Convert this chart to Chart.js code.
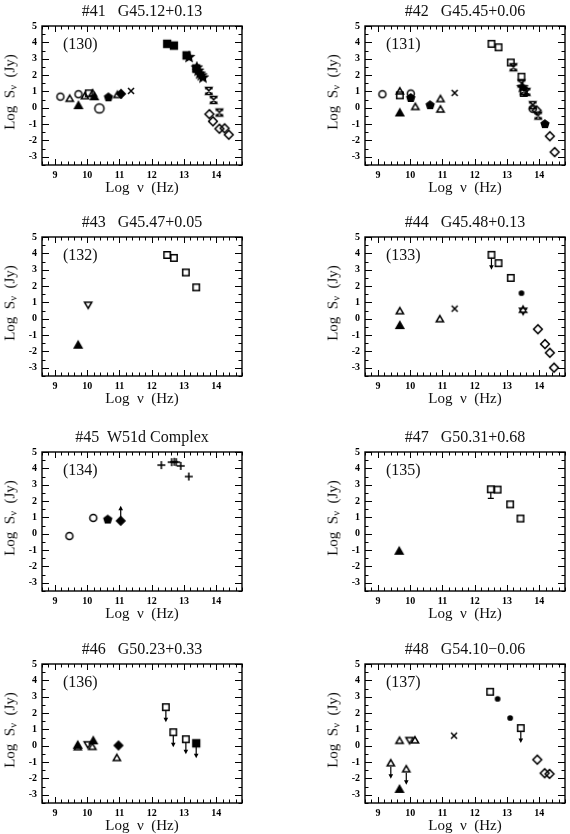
<!DOCTYPE html>
<html>
<head>
<meta charset="utf-8">
<script src="https://cdn.jsdelivr.net/npm/chart.js@4.4.1/dist/chart.umd.min.js"></script>
<style>
  body { margin: 0; background: #fff; }
  #fig { position: relative; width: 570px; height: 834px; overflow: hidden; font-family: "Liberation Serif", "DejaVu Serif", serif; color: #111; }
  #fig canvas { position: absolute; }
  .t { position: absolute; white-space: pre; line-height: 1; }
  .t sub { font-size: 70%; vertical-align: -2px; line-height: 0; }
</style>
</head>
<body>
<div id="fig"></div>
<script>
// axis ticks shared by every panel (log nu in Hz, log S in Jy)
var xTicks = [9, 10, 11, 12, 13, 14];
var yTicks = [-3, -2, -1, 0, 1, 2, 3, 4, 5];

// symbol codes: oc open circle, OC big open circle, sc small dot, ot/ft open/filled triangle,
// dt down triangle, os/fs open/filled square, od/fd open/filled diamond, fp filled pentagon,
// fst/ost filled/open star, x cross, + plus, hg hourglass
// lim: 1 upper limit, -1 lower limit, 2 error bar

var n41_x = [9.17, 9.46, 9.73, 9.73, 9.93, 10.05, 10.17, 10.22, 10.38, 10.66, 10.94, 11.05, 11.36, 12.48, 12.69, 13.08, 13.16, 13.38, 13.40, 13.44, 13.49, 13.54, 13.59, 13.77, 13.92, 14.10, 13.79, 13.90, 14.10, 14.26, 14.39];
var n41_y = [0.68, 0.52, 0.10, 0.83, 0.68, 0.88, 0.85, 0.64, -0.04, 0.64, 0.75, 0.85, 1.03, 3.91, 3.80, 3.20, 3.10, 2.40, 2.46, 2.27, 2.09, 1.98, 1.85, 1.03, 0.48, -0.29, -0.39, -0.83, -1.28, -1.26, -1.65];
var n41_sym = ["oc", "ot", "ft", "oc", "ot", "os", "ot", "ft", "OC", "fp", "ot", "fd", "x", "fs", "fs", "fs", "fst", "fs", "fst", "fst", "fst", "fst", "fst", "hg", "hg", "hg", "od", "od", "od", "od", "od"];

var n42_x = [9.14, 9.68, 9.68, 9.68, 10.02, 10.02, 10.16, 10.62, 10.94, 10.94, 11.38, 12.52, 12.74, 13.12, 13.20, 13.45, 13.45, 13.48, 13.52, 13.52, 13.61, 13.80, 13.80, 13.92, 13.97, 14.18, 14.33, 14.48];
var n42_y = [0.83, 0.97, 0.76, -0.35, 0.87, 0.60, 0.02, 0.16, 0.50, -0.14, 0.91, 3.91, 3.70, 2.77, 2.48, 1.90, 1.49, 1.26, 1.03, 0.91, 0.97, 0.16, -0.06, -0.16, -0.48, -1.00, -1.74, -2.71];
var n42_sym = ["oc", "ot", "os", "ft", "oc", "fp", "ot", "fp", "ot", "ot", "x", "os", "os", "os", "hg", "os", "hg", "fst", "hg", "os", "hg", "hg", "oc", "od", "hg", "fp", "od", "od"];

var n43_x = [9.72, 10.03, 12.48, 12.69, 13.06, 13.38];
var n43_y = [-1.65, 0.89, 3.90, 3.72, 2.83, 1.92];
var n43_sym = ["ft", "dt", "os", "os", "os", "os"];

var n44_x = [9.68, 9.68, 10.92, 11.38, 12.52, 12.74, 13.12, 13.45, 13.50, 13.96, 14.18, 14.33, 14.46];
var n44_y = [0.43, -0.45, -0.06, 0.62, 3.91, 3.40, 2.50, 1.57, 0.52, -0.64, -1.55, -2.08, -2.99];
var n44_sym = ["ot", "ft", "ot", "x", "os", "os", "os", "sc", "ost", "od", "od", "od", "od"];
var n44_lim = [0, 0, 0, 0, 1, 0, 0, 0, 0, 0, 0, 0, 0];

var n45_x = [9.45, 10.19, 10.64, 11.04, 12.30, 12.62, 12.70, 12.76, 12.90, 13.15];
var n45_y = [-0.14, 0.97, 0.87, 0.79, 4.20, 4.38, 4.40, 4.38, 4.15, 3.50];
var n45_sym = ["oc", "oc", "fp", "fd", "+", "+", "+", "+", "+", "+"];
var n45_lim = [0, 0, 0, -1, 0, 0, 0, 0, 0, 0];

var n47_x = [9.66, 12.50, 12.71, 13.10, 13.42];
var n47_y = [-1.10, 2.72, 2.70, 1.80, 0.93];
var n47_sym = ["ft", "os", "os", "os", "os"];
var n47_lim = [0, 2, 0, 0, 0];

var n46_x = [9.71, 9.71, 10.02, 10.19, 10.16, 10.97, 10.92, 12.44, 12.67, 13.06, 13.38];
var n46_y = [0.00, -0.12, 0.12, 0.27, -0.10, 0.02, -0.78, 2.36, 0.83, 0.40, 0.15];
var n46_sym = ["ft", "ot", "dt", "ft", "ot", "fd", "ot", "os", "os", "os", "fs"];
var n46_lim = [0, 0, 0, 0, 0, 0, 0, 1, 1, 1, 1];

var n48_x = [9.40, 9.67, 9.67, 9.88, 9.98, 10.15, 11.36, 12.48, 12.71, 13.10, 13.43, 13.94, 14.17, 14.32];
var n48_y = [-1.10, 0.27, -2.70, -1.47, 0.38, 0.30, 0.62, 3.30, 2.87, 1.70, 1.08, -0.85, -1.68, -1.72];
var n48_sym = ["ot", "ot", "ft", "ot", "dt", "ot", "x", "os", "sc", "sc", "os", "od", "od", "od"];
var n48_lim = [1, 0, 0, 1, 0, 0, 0, 0, 0, 0, 1, 0, 0, 0];

var panels = [
  { title: "#41   G45.12+0.13", tag: "(130)", x: n41_x, y: n41_y, sym: n41_sym, lim: null, col: 0, row: 0 },
  { title: "#42   G45.45+0.06", tag: "(131)", x: n42_x, y: n42_y, sym: n42_sym, lim: null, col: 1, row: 0 },
  { title: "#43   G45.47+0.05", tag: "(132)", x: n43_x, y: n43_y, sym: n43_sym, lim: null, col: 0, row: 1 },
  { title: "#44   G45.48+0.13", tag: "(133)", x: n44_x, y: n44_y, sym: n44_sym, lim: n44_lim, col: 1, row: 1 },
  { title: "#45  W51d Complex", tag: "(134)", x: n45_x, y: n45_y, sym: n45_sym, lim: n45_lim, col: 0, row: 2 },
  { title: "#47   G50.31+0.68", tag: "(135)", x: n47_x, y: n47_y, sym: n47_sym, lim: n47_lim, col: 1, row: 2 },
  { title: "#46   G50.23+0.33", tag: "(136)", x: n46_x, y: n46_y, sym: n46_sym, lim: n46_lim, col: 0, row: 3 },
  { title: "#48   G54.10\u22120.06", tag: "(137)", x: n48_x, y: n48_y, sym: n48_sym, lim: n48_lim, col: 1, row: 3 }
];

// layout
var COL_LEFT = [42, 365], ROW_TOP = [19, 230, 445, 657];
var PW = 200, PH = 146;
var FONT = '"Liberation Serif", "DejaVu Serif", serif';

function poly(g, n, r, a0) {
  for (var i = 0; i < n; i++) {
    var a = a0 + i * 2 * Math.PI / n;
    if (i === 0) g.moveTo(r * Math.cos(a), r * Math.sin(a)); else g.lineTo(r * Math.cos(a), r * Math.sin(a));
  }
  g.closePath();
}
function star(g, ro, ri) {
  for (var i = 0; i < 10; i++) {
    var a = -Math.PI / 2 + i * Math.PI / 5, r = i % 2 ? ri : ro;
    if (i === 0) g.moveTo(r * Math.cos(a), r * Math.sin(a)); else g.lineTo(r * Math.cos(a), r * Math.sin(a));
  }
  g.closePath();
}

function marker(sym) {
  var c = document.createElement("canvas");
  c.width = c.height = 14;
  var g = c.getContext("2d");
  g.translate(7, 7);
  g.lineWidth = 1.5;
  g.strokeStyle = g.fillStyle = "#000";
  var fill = false;
  g.beginPath();
  switch (sym) {
    case "oc": g.arc(0, 0, 3.5, 0, 2 * Math.PI); break;
    case "OC": g.arc(0, 0, 4.6, 0, 2 * Math.PI); break;
    case "sc": g.arc(0, 0, 2.1, 0, 2 * Math.PI); fill = true; break;
    case "ot": poly(g, 3, 4.2, -Math.PI / 2); break;
    case "ft": poly(g, 3, 4.4, -Math.PI / 2); fill = true; break;
    case "dt": poly(g, 3, 4.2, Math.PI / 2); break;
    case "os": g.rect(-3.2, -3.2, 6.4, 6.4); break;
    case "fs": g.rect(-3.4, -3.4, 6.8, 6.8); fill = true; break;
    case "od": poly(g, 4, 4.4, -Math.PI / 2); break;
    case "fd": poly(g, 4, 4.2, -Math.PI / 2); fill = true; break;
    case "fp": poly(g, 5, 4.0, -Math.PI / 2); fill = true; break;
    case "fst": star(g, 4.8, 2.2); fill = true; break;
    case "ost": poly(g, 3, 4.2, -Math.PI / 2); poly(g, 3, 4.2, Math.PI / 2); break;
    case "x": g.moveTo(-3, -3); g.lineTo(3, 3); g.moveTo(3, -3); g.lineTo(-3, 3); break;
    case "+": g.moveTo(-4, 0); g.lineTo(4, 0); g.moveTo(0, -4); g.lineTo(0, 4); break;
    case "hg":
      g.moveTo(-3, -3.5); g.lineTo(3, -3.5); g.lineTo(-3, 3.5); g.lineTo(3, 3.5); g.closePath();
      g.moveTo(-3, -3.5); g.lineTo(-3, -1.5); g.moveTo(3, -3.5); g.lineTo(3, -1.5);
      g.moveTo(-3, 3.5); g.lineTo(-3, 1.5); g.moveTo(3, 3.5); g.lineTo(3, 1.5);
      break;
  }
  if (fill) g.fill();
  g.stroke();
  return c;
}
var IMG = {};
["oc", "OC", "sc", "ot", "ft", "dt", "os", "fs", "od", "fd", "fp", "fst", "ost", "x", "+", "hg"].forEach(function (s) { IMG[s] = marker(s); });

// box with inward ticks on all four sides
var frame = {
  id: "frame",
  afterDraw: function (chart) {
    var a = chart.chartArea, xs = chart.scales.x, ys = chart.scales.y, ctx = chart.ctx;
    ctx.save();
    ctx.strokeStyle = "#000";
    ctx.lineWidth = 1.4;
    ctx.strokeRect(a.left, a.top, a.right - a.left, a.bottom - a.top);
    ctx.lineWidth = 1;
    ctx.beginPath();
    var i, v, p, len;
    for (i = Math.ceil(xs.min / 0.2 - 1e-6); i * 0.2 <= xs.max + 1e-6; i++) {
      v = i * 0.2;
      p = Math.round(xs.getPixelForValue(v)) + 0.5;
      len = Math.abs(v - Math.round(v)) < 1e-6 ? 6 : 3.5;
      ctx.moveTo(p, a.bottom); ctx.lineTo(p, a.bottom - len);
      ctx.moveTo(p, a.top); ctx.lineTo(p, a.top + len);
    }
    for (i = Math.ceil(ys.min / 0.5 - 1e-6); i * 0.5 <= ys.max + 1e-6; i++) {
      v = i * 0.5;
      p = Math.round(ys.getPixelForValue(v)) + 0.5;
      len = Math.abs(v - Math.round(v)) < 1e-6 ? 7 : 3.5;
      ctx.moveTo(a.left, p); ctx.lineTo(a.left + len, p);
      ctx.moveTo(a.right, p); ctx.lineTo(a.right - len, p);
    }
    ctx.stroke();
    ctx.restore();
  }
};

// limit arrows / error bar drawn at the library's point positions
var limits = {
  id: "limits",
  afterDatasetsDraw: function (chart) {
    var lim = chart.$lim;
    if (!lim) return;
    var ctx = chart.ctx, pts = chart.getDatasetMeta(0).data;
    ctx.save();
    ctx.strokeStyle = ctx.fillStyle = "#000";
    ctx.lineWidth = 1.2;
    lim.forEach(function (l, i) {
      if (!l) return;
      var x = pts[i].x, y = pts[i].y;
      ctx.beginPath();
      if (l === 1) {
        ctx.moveTo(x, y + 3); ctx.lineTo(x, y + 12); ctx.stroke();
        ctx.beginPath(); ctx.moveTo(x, y + 15); ctx.lineTo(x - 2.3, y + 10.5); ctx.lineTo(x + 2.3, y + 10.5); ctx.closePath(); ctx.fill();
      } else if (l === -1) {
        ctx.moveTo(x, y - 3); ctx.lineTo(x, y - 12); ctx.stroke();
        ctx.beginPath(); ctx.moveTo(x, y - 15); ctx.lineTo(x - 2.3, y - 10.5); ctx.lineTo(x + 2.3, y - 10.5); ctx.closePath(); ctx.fill();
      } else {
        ctx.moveTo(x, y + 3); ctx.lineTo(x, y + 9); ctx.moveTo(x - 3, y + 9); ctx.lineTo(x + 3, y + 9); ctx.stroke();
      }
    });
    ctx.restore();
  }
};

function addText(fig, html, css) {
  var d = document.createElement("div");
  d.className = "t";
  d.innerHTML = html;
  for (var k in css) d.style[k] = css[k];
  fig.appendChild(d);
  return d;
}

var fig = document.getElementById("fig");
panels.forEach(function (p) {
  var L = COL_LEFT[p.col], T = ROW_TOP[p.row];
  var cv = document.createElement("canvas");
  cv.width = PW + 48;
  cv.height = PH + 4 + 22;
  cv.style.left = (L - 40) + "px";
  cv.style.top = (T - 4) + "px";
  fig.appendChild(cv);

  var tickFont = { family: FONT, size: 10, weight: "bold" };
  var chart = new Chart(cv, {
    type: "scatter",
    data: {
      datasets: [{
        data: p.x.map(function (v, i) { return { x: v, y: p.y[i] }; }),
        pointStyle: p.sym.map(function (s) { return IMG[s]; }),
        pointRadius: 4,
        borderColor: "#000",
        backgroundColor: "#000"
      }]
    },
    options: {
      responsive: false,
      animation: false,
      events: [],
      layout: { padding: { left: 0, top: 4, right: 8, bottom: 0 } },
      plugins: { legend: { display: false }, tooltip: { enabled: false } },
      scales: {
        x: {
          type: "linear", min: 8.6, max: 14.8,
          grid: { display: false, drawTicks: false }, border: { display: false },
          afterBuildTicks: function (s) { s.ticks = xTicks.map(function (v) { return { value: v }; }); },
          afterFit: function (s) { s.height = 22; },
          ticks: { padding: 4, font: tickFont, color: "#000", maxRotation: 0, autoSkip: false }
        },
        y: {
          type: "linear", min: -3.5, max: 5,
          grid: { display: false, drawTicks: false }, border: { display: false },
          afterBuildTicks: function (s) { s.ticks = yTicks.map(function (v) { return { value: v }; }); },
          afterFit: function (s) { s.width = 40; },
          ticks: { padding: 5, font: tickFont, color: "#000", autoSkip: false,
                   callback: function (v) { return v < 0 ? "-" + Math.abs(v) : String(v); } }
        }
      }
    },
    plugins: [frame, limits]
  });
  chart.$lim = p.lim;
  chart.draw();

  addText(fig, p.title, { left: L + "px", width: PW + "px", textAlign: "center", top: (T - 16) + "px", fontSize: "16px" });
  addText(fig, p.tag, { left: (L + 21) + "px", top: (T + 17) + "px", fontSize: "16px" });
  addText(fig, "Log  \u03bd  (Hz)", { left: L + "px", width: PW + "px", textAlign: "center", top: (T + PH + 15) + "px", fontSize: "15px" });
  addText(fig, "Log  S<sub>\u03bd</sub>  (Jy)", {
    left: (L - 32) + "px", top: (T + PH / 2) + "px", width: "140px", textAlign: "center", fontSize: "15px",
    transform: "translate(-50%, -50%) rotate(-90deg)"
  });
});
</script>
</body>
</html>
